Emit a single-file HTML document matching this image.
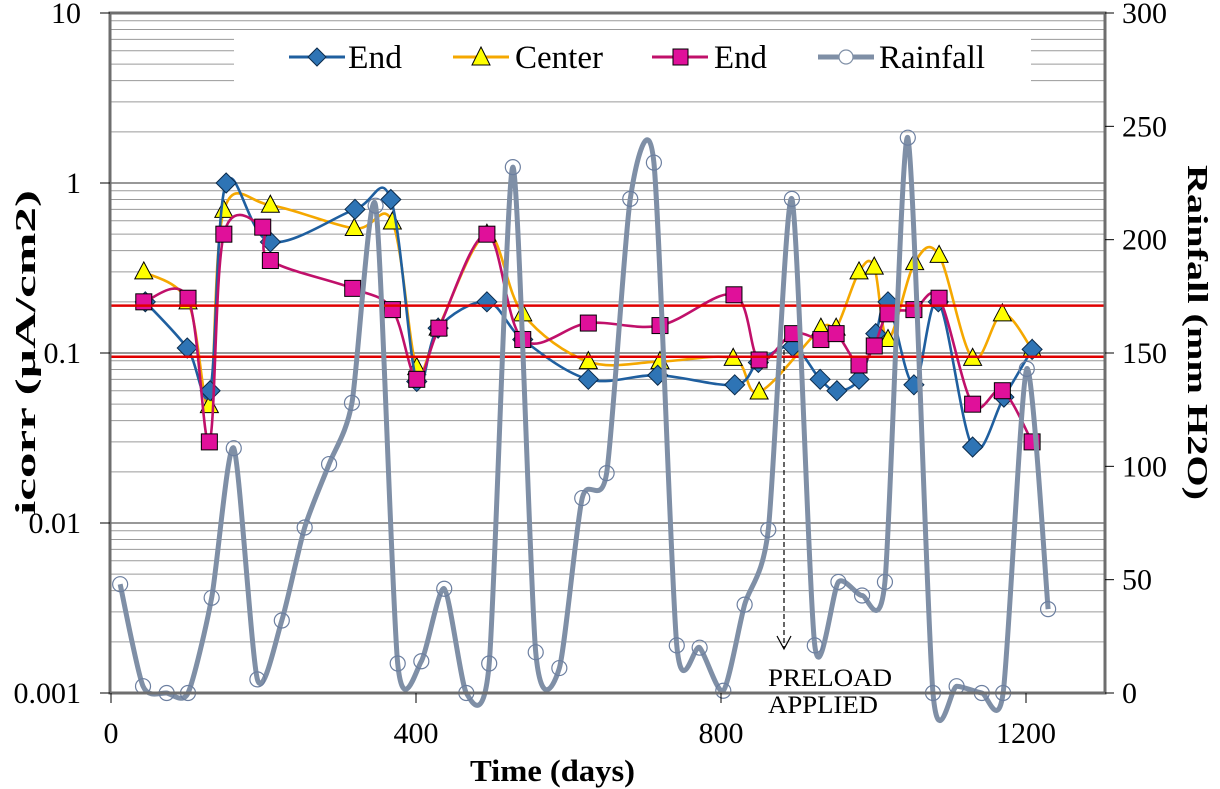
<!DOCTYPE html>
<html><head><meta charset="utf-8"><style>
html,body{margin:0;padding:0;background:#fff;}
svg{display:block;font-family:"Liberation Serif",serif;}
</style></head><body>
<svg id="chart" width="1220" height="789" viewBox="0 0 1220 789" xmlns="http://www.w3.org/2000/svg">
<g id="grid"></g>
<rect x="234" y="33" width="797" height="58" fill="#fff"/>
<g id="series"></g>
<g id="axes"></g>
<g font-size="33">
  <g>
    <line x1="289" y1="57" x2="345" y2="57" stroke="#1f5f9f" stroke-width="3"/>
    <polygon points="317,48 326,57 317,66 308,57" fill="#2e74b5" stroke="#0b2a4a" stroke-width="1"/>
    <text x="348" y="68" textLength="54" lengthAdjust="spacingAndGlyphs">End</text>
  </g>
  <g>
    <line x1="453" y1="57" x2="509" y2="57" stroke="#f5a800" stroke-width="3"/>
    <polygon points="481,47 490,65 472,65" fill="#ffff00" stroke="#000" stroke-width="1"/>
    <text x="515" y="68" textLength="88" lengthAdjust="spacingAndGlyphs">Center</text>
  </g>
  <g>
    <line x1="652" y1="57" x2="708" y2="57" stroke="#c0106a" stroke-width="3"/>
    <rect x="673" y="49" width="15" height="16" fill="#e0109a" stroke="#000" stroke-width="1"/>
    <text x="714" y="68" textLength="53" lengthAdjust="spacingAndGlyphs">End</text>
  </g>
  <g>
    <line x1="818" y1="57" x2="874" y2="57" stroke="#7f8fa6" stroke-width="5"/>
    <circle cx="846" cy="57" r="7" fill="#fff" stroke="#7f8fa6" stroke-width="1.2"/>
    <text x="879" y="68" textLength="106" lengthAdjust="spacingAndGlyphs">Rainfall</text>
  </g>
</g>
<g>
  <line x1="784" y1="350" x2="784" y2="648" stroke="#000" stroke-width="1.2" stroke-dasharray="5,3"/>
  <polyline points="777,636 784,649 791,636" fill="none" stroke="#000" stroke-width="1.2"/>
  <text x="768" y="686" font-size="25" textLength="124" lengthAdjust="spacingAndGlyphs">PRELOAD</text>
  <text x="768" y="713" font-size="25" textLength="110" lengthAdjust="spacingAndGlyphs">APPLIED</text>
</g>
<text x="470" y="781" font-size="31" font-weight="bold" textLength="165" lengthAdjust="spacingAndGlyphs">Time (days)</text>
<text transform="translate(35,515) rotate(-90)" font-size="28" font-weight="bold" textLength="325" lengthAdjust="spacingAndGlyphs">icorr (µA/cm2)</text>
<text transform="translate(1188,165) rotate(90)" font-size="29" font-weight="bold" textLength="335" lengthAdjust="spacingAndGlyphs">Rainfall (mm H2O)</text>
</svg>
<script>
const endDays=[45,100,130,151,209,320,367,401,429,493,540,626,717,818,849,894,930,952,981,1003,1019,1053,1085,1130,1171,1208];
const endVals=[0.2,0.107,0.06,1.0,0.45,0.7,0.8,0.068,0.14,0.2,0.12,0.07,0.074,0.065,0.088,0.109,0.07,0.06,0.07,0.13,0.2,0.065,0.2,0.028,0.055,0.105];
const centerDays=[43,101,129,148,209,319,369,401,429,493,540,626,720,816,850,931,951,981,1001,1019,1054,1086,1130,1169,1208];
const centerVals=[0.3,0.2,0.049,0.69,0.74,0.54,0.59,0.082,0.14,0.5,0.17,0.089,0.089,0.093,0.059,0.14,0.14,0.3,0.32,0.12,0.34,0.375,0.093,0.17,0.105];
const end2Days=[43,101,129,148,199,209,317,369,401,430,493,540,626,720,817,850,894,931,951,981,1001,1019,1053,1086,1130,1169,1208];
const end2Vals=[0.2,0.21,0.03,0.5,0.55,0.35,0.24,0.18,0.07,0.14,0.5,0.12,0.15,0.145,0.22,0.091,0.13,0.12,0.13,0.085,0.11,0.17,0.18,0.21,0.05,0.06,0.03];
const rainDays=[12,42,73,101,132,161,192,224,254,286,316,347,376,407,437,466,496,527,557,588,618,650,681,712,742,772,803,831,862,893,923,954,985,1015,1045,1078,1109,1142,1170,1201,1229];
const rainVals=[48,3,0,0,42,108,6,32,73,101,128,215,13,14,46,0,13,232,18,11,86,97,218,234,21,20,1,39,72,218,21,49,43,49,245,0,3,0,0,143,37];
const limitVals=[0.19,0.095];
const xTicks=[0,400,800,1200];
const yLeftTicks=[10,1,0.1,0.01,0.001];
const yLeftLabels=["10","1","0.1","0.01","0.001"];
const yRightTicks=[0,50,100,150,200,250,300];

const NS="http://www.w3.org/2000/svg";
const X0=111,PXD=305/400,LEFT=110,RIGHT=1105,TOP=13,BOT=693;
function xs(d){return X0+d*PXD;}
function yl(v){return TOP+(1-Math.log10(v))*170;}
function yr(r){return BOT-r*(BOT-TOP)/300;}
function mk(tag,attrs,parent){const e=document.createElementNS(NS,tag);for(const k in attrs)e.setAttribute(k,attrs[k]);parent.appendChild(e);return e;}
function spline(pts,t){
  let d="M"+pts[0][0]+","+pts[0][1];
  for(let i=0;i<pts.length-1;i++){
    const p0=pts[i-1]||pts[i],p1=pts[i],p2=pts[i+1],p3=pts[i+2]||p2;
    d+=" C"+(p1[0]+(p2[0]-p0[0])*t)+","+(p1[1]+(p2[1]-p0[1])*t)+" "+(p2[0]-(p3[0]-p1[0])*t)+","+(p2[1]-(p3[1]-p1[1])*t)+" "+p2[0]+","+p2[1];
  }
  return d;
}
const grid=document.getElementById('grid');
for(let e=-3;e<1;e++){
  for(let m=1;m<10;m++){
    const v=m*Math.pow(10,e);
    const gl=mk('line',{x1:LEFT,x2:RIGHT,y1:yl(v),y2:yl(v),stroke:m===1?'#777':'#9a9a9a','stroke-width':m===1?1.4:1},grid);
    
    
  }
}
const series=document.getElementById('series');
function drawSeries(days,vals,color,shape,name){
  const pts=days.map((d,i)=>[xs(d),yl(vals[i])]);
  const p=mk('path',{d:spline(pts,1/6),fill:'none',stroke:color,'stroke-width':2.6},series);
  
  
  pts.forEach(([x,y])=>{
    let m;
    if(shape==='diamond') m=mk('polygon',{points:`${x},${y-10} ${x+10},${y} ${x},${y+10} ${x-10},${y}`,fill:'#2e74b5',stroke:'#0b2a4a','stroke-width':1},series);
    else if(shape==='tri') m=mk('polygon',{points:`${x},${y-10} ${x+9},${y+7} ${x-9},${y+7}`,fill:'#ffff00',stroke:'#000','stroke-width':1},series);
    else m=mk('rect',{x:x-8,y:y-8,width:16,height:16,fill:'#e0109a',stroke:'#000','stroke-width':1},series);
    
    
  });
}
drawSeries(centerDays,centerVals,'#f5a800','tri','center');
drawSeries(endDays,endVals,'#1f5f9f','diamond','end-blue');
drawSeries(end2Days,end2Vals,'#c0106a','square','end-magenta');
limitVals.forEach(v=>{
  const l=mk('line',{x1:LEFT,x2:RIGHT,y1:yl(v),y2:yl(v),stroke:'#e00000','stroke-width':2.5},series);
  
  
});
const rpts=rainDays.map((d,i)=>[xs(d),yr(rainVals[i])]);
const rp=mk('path',{d:spline(rpts,0.12),fill:'none',stroke:'#7f8fa6','stroke-width':5,'stroke-linejoin':'round'},series);


rpts.forEach(([x,y])=>{
  const c=mk('circle',{cx:x,cy:y,r:7.5,fill:'none',stroke:'#6c7fa0','stroke-width':1.2},series);
  
  
});
const axes=document.getElementById('axes');
const fr=mk('rect',{x:LEFT,y:TOP,width:RIGHT-LEFT,height:BOT-TOP,fill:'none',stroke:'#6e6e6e','stroke-width':3},axes);


yLeftTicks.forEach((v,i)=>{
  const y=yl(v);
  const t=mk('line',{x1:100,x2:LEFT,y1:y,y2:y,stroke:'#000','stroke-width':1},axes);
  
  
  const tx=mk('text',{x:81,y:y+10,'font-size':30,'text-anchor':'end'},axes);
  tx.textContent=yLeftLabels[i];
  
  
});
yRightTicks.forEach(v=>{
  const y=yr(v);
  const t=mk('line',{x1:RIGHT,x2:1114,y1:y,y2:y,stroke:'#000','stroke-width':1},axes);
  
  
  const tx=mk('text',{x:1122,y:y+10,'font-size':30},axes);
  tx.textContent=String(v);
  
  
});
xTicks.forEach(d=>{
  const x=xs(d);
  const t=mk('line',{x1:x,x2:x,y1:BOT,y2:703,stroke:'#000','stroke-width':1},axes);
  
  
  const tx=mk('text',{x:x,y:743,'font-size':30,'text-anchor':'middle'},axes);
  tx.textContent=String(d);
  
  
});
</script>
</body></html>
